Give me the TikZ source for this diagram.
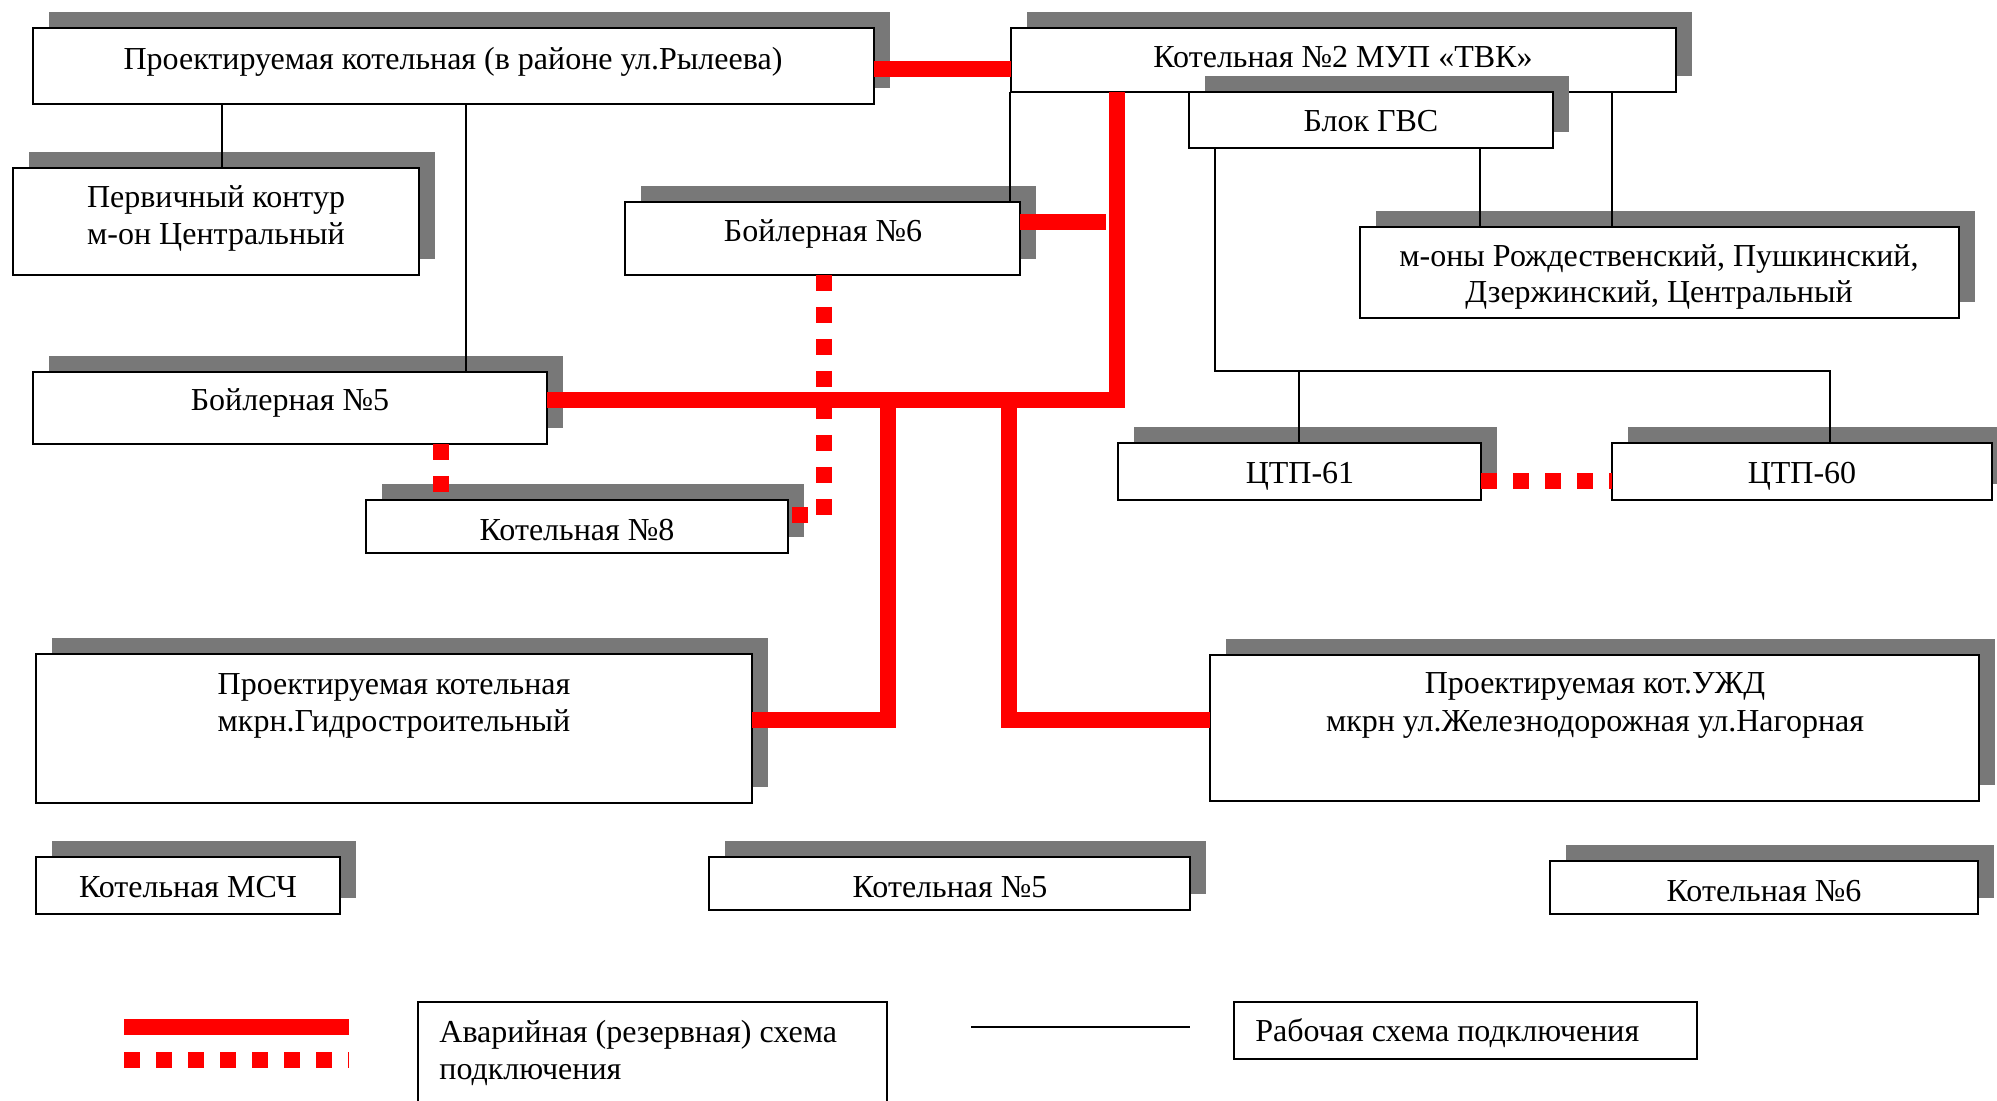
\documentclass[tikz,border=0pt]{standalone}
\usepackage{fontspec}
\setmainfont{Liberation Serif}
\usetikzlibrary{shadows}
\definecolor{shc}{gray}{0.47}
\definecolor{pipered}{RGB}{255,0,0}
\tikzset{
  bx/.style={draw, line width=1pt, fill=white, inner sep=0pt, outer sep=0pt,
    general shadow={fill=shc, shadow xshift=8pt, shadow yshift=8pt}},
  lbx/.style={draw, line width=1pt, fill=white, inner sep=0pt, outer sep=0pt},
  txt/.style={inner sep=0pt, anchor=base, font=\fontsize{16pt}{18pt}\selectfont},
  ltxt/.style={txt, anchor=base west},
  thinline/.style={draw=black, line width=0.75pt},
  redline/.style={draw=pipered, line width=8pt},
  reddash/.style={draw=pipered, line width=8pt, dash pattern=on 8pt off 8pt},
}
\newcommand\mybox[6][bx]{\node[#1, minimum width={(#5-#3)*0.5pt}, minimum height={(#6-#4)*0.5pt}] (#2) at ({(#3+#5)/2},{(#4+#6)/2}) {};}
\begin{document}
\begin{tikzpicture}[x=0.5pt,y=-0.5pt]
\useasboundingbox (0,0) rectangle (1997,1101);
\clip (0,0) rectangle (1997,1101);
\fill[white] (0,0) rectangle (1997,1101);

% boxes
\mybox{b1}{33}{28}{874}{104}
\mybox{b2}{1011}{28}{1676}{92}
\mybox{gvs}{1189}{92}{1553}{148}
\mybox{perv}{13}{168}{419}{275}
\mybox{boil6}{625}{202}{1020}{275}
\mybox{mony}{1360}{227}{1959}{318}
\mybox{boil5}{33}{372}{547}{444}
\mybox{ctp61}{1118}{443}{1481}{500}
\mybox{ctp60}{1612}{443}{1992}{500}
\mybox{k8}{366}{500}{788}{553}
\mybox{gidro}{36}{654}{752}{803}
\mybox{uzd}{1210}{655}{1979}{801}
\mybox{msch}{36}{857}{340}{914}
\mybox{k5}{709}{857}{1190}{910}
\mybox{k6}{1550}{861}{1978}{914}
\mybox[lbx]{leg1}{418}{1002}{887}{1140}
\mybox[lbx]{leg2}{1234}{1002}{1697}{1059}

% texts
\node[txt] (tb1) at (453,70) {Проектируемая котельная (в районе ул.Рылеева)};
\node[txt] (tb2) at (1343,68) {Котельная №2 МУП «ТВК»};
\node[txt] (tgvs) at (1371,132) {Блок ГВС};
\node[txt] (tmony1) at (1659,267) {м-оны Рождественский, Пушкинский,};
\node[txt] (tmony2) at (1659,303) {Дзержинский, Центральный};
\node[txt] (tperv1) at (216,208) {Первичный контур};
\node[txt] (tperv2) at (216,245) {м-он Центральный};
\node[txt] (tboil6) at (823,242) {Бойлерная №6};
\node[txt] (tboil5) at (290,411) {Бойлерная №5};
\node[txt] (tk8) at (577,540) {Котельная №8};
\node[txt] (tctp61) at (1300,483) {ЦТП-61};
\node[txt] (tctp60) at (1802,483) {ЦТП-60};
\node[txt] (tuzd1) at (1595,693) {Проектируемая кот.УЖД};
\node[txt] (tuzd2) at (1595,731) {мкрн ул.Железнодорожная ул.Нагорная};
\node[txt] (tgidro1) at (394,694) {Проектируемая котельная};
\node[txt] (tgidro2) at (394,731) {мкрн.Гидростроительный};
\node[txt] (tmsch) at (188,897) {Котельная МСЧ};
\node[txt] (tk5) at (950,897) {Котельная №5};
\node[txt] (tk6) at (1764,901) {Котельная №6};
\node[ltxt] (tleg1a) at (439,1042) {Аварийная (резервная) схема};
\node[ltxt] (tleg1b) at (439,1079) {подключения};
\node[ltxt] (tleg2) at (1255,1041) {Рабочая схема подключения};

% working connections (thin black)
\draw[thinline] (b1.south -| 222,0) -- (perv.north -| 222,0);
\draw[thinline] (b1.south -| 466,0) -- (boil5.north -| 466,0);
\draw[thinline] (b2.south -| 1010,0) -- (boil6.north -| 1010,0);
\draw[thinline] (gvs.south -| 1480,0) -- (mony.north -| 1480,0);
\draw[thinline] (b2.south -| 1612,0) -- (mony.north -| 1612,0);
\coordinate (hL) at (1215,371);
\coordinate (hR) at (1830,371);
\coordinate (hM) at (1299,371);
\draw[thinline] (gvs.south -| hL) -- (hL) -- (hR) -- (ctp60.north -| hR);
\draw[thinline] (hM) -- (ctp61.north -| hM);

% emergency connections (thick red)
\coordinate (jc) at (1117,400);
\coordinate (j1) at (888,400);
\coordinate (j2) at (1009,400);
\coordinate (j1b) at (888,720);
\coordinate (j2b) at (1009,720);
\coordinate (e6) at (1106,222);
\coordinate (d1) at (824,515);
\draw[redline] (b1.east |- 0,69) -- (b2.west |- 0,69);
\draw[redline] (b2.south -| jc) -- (jc) -- (boil5.east |- jc);
\draw[redline] (boil6.east |- e6) -- (e6);
\draw[redline] (j1) -- (j1b) -- (gidro.east |- j1b);
\draw[redline] (j2) -- (j2b) -- (uzd.west |- j2b);
\draw[reddash] (boil6.south -| d1) -- (d1) -- (k8.east |- d1);
\draw[reddash] (boil5.south -| 441,0) -- (k8.north -| 441,0);
\draw[reddash] (ctp61.east |- 0,481) -- (ctp60.west |- 0,481);

% legend lines
\coordinate (la1) at (124,1027);
\coordinate (la2) at (349,1027);
\coordinate (lb1) at (124,1060);
\coordinate (lb2) at (349,1060);
\coordinate (lc1) at (971,1027);
\coordinate (lc2) at (1190,1027);
\draw[redline] (la1) -- (la2);
\draw[reddash] (lb1) -- (lb2);
\draw[draw=black, line width=1pt] (lc1) -- (lc2);
\end{tikzpicture}
\end{document}
